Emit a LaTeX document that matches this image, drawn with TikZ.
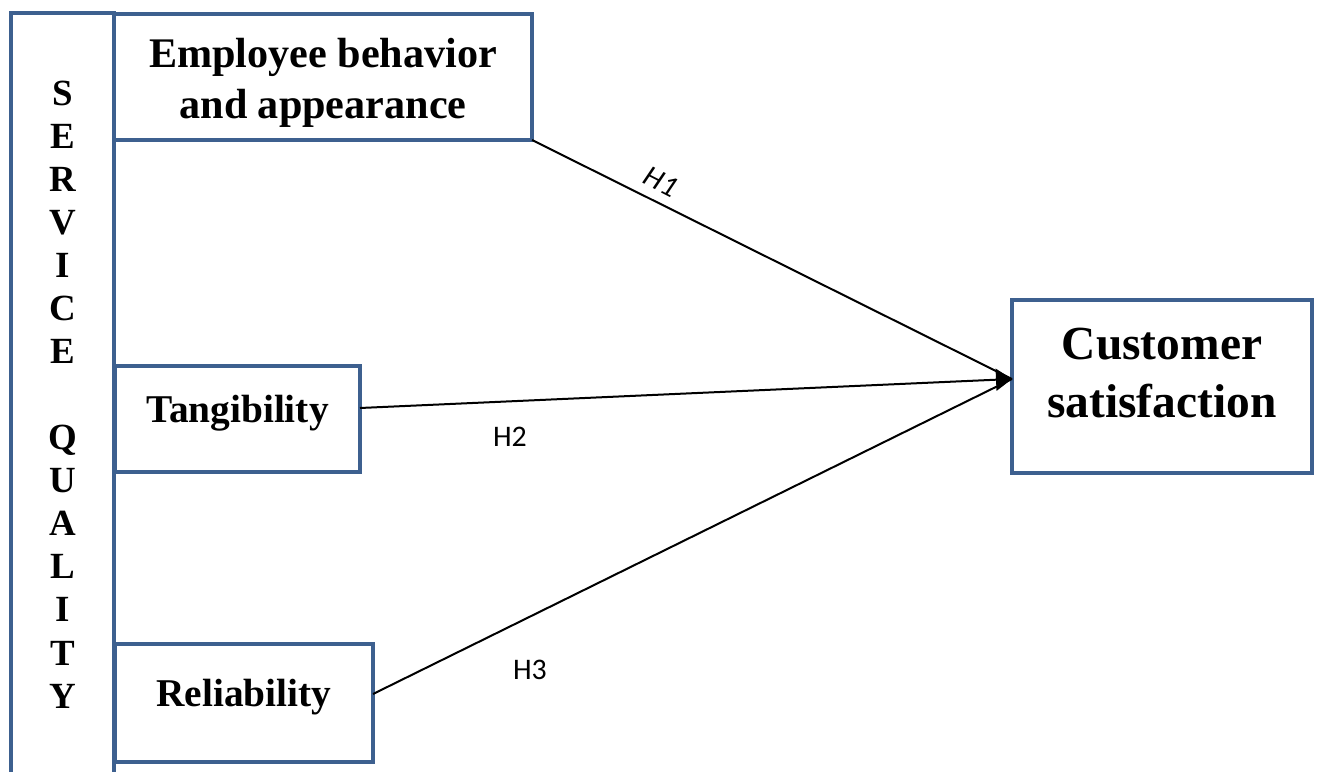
\documentclass[tikz,border=0pt]{standalone}
\usepackage{fontspec}
\setmainfont{Liberation Serif}
\newfontfamily\hypfont{Carlito}
\definecolor{boxblue}{RGB}{61, 96, 143}
\usetikzlibrary{arrows.meta, positioning}
% lift a node text without changing the box it sits in
\newcommand{\lifttext}[2]{\raisebox{#1}[\height][\depth]{\begin{tabular}{@{}c@{}}#2\end{tabular}}}

\begin{document}
\begin{tikzpicture}[x=0.2mm, y=-0.2mm,
    box/.style={draw=boxblue, line width=0.8mm, inner sep=0pt, outer sep=0pt, align=center},
    link/.style={line width=0.4mm},
    hyp/.style={font=\hypfont\fontsize{17}{20}\selectfont}]
  \useasboundingbox (0,0) rectangle (1317,772);
  % service quality column
  \node[box, minimum width=20.6mm, minimum height=152.6mm,
        font=\bfseries\fontsize{21}{24.5}\selectfont] (sq) at (62.5,394.5)
    {S\\E\\R\\V\\I\\C\\E\\[24.5pt]Q\\U\\A\\L\\I\\T\\Y};
  % dimensions
  \node[box, minimum width=83.6mm, minimum height=25.2mm,
        font=\bfseries\fontsize{24}{28.5}\selectfont] (emp) at (323,77)
    {\lifttext{-1.2mm}{Employee behavior\\and appearance}};
  \node[box, minimum width=49mm, minimum height=21.2mm,
        font=\bfseries\fontsize{22.4}{27}\selectfont] (tan) at (237.5,419)
    {\lifttext{1.2mm}{Tangibility}};
  \node[box, minimum width=51.6mm, minimum height=23.6mm,
        font=\bfseries\fontsize{22.4}{27}\selectfont] (rel) at (244,703)
    {\lifttext{1.2mm}{Reliability}};
  % outcome
  \node[box, minimum width=60mm, minimum height=34.6mm,
        font=\bfseries\fontsize{27}{33}\selectfont] (cs) at (1162,386.5)
    {\lifttext{2mm}{Customer\\satisfaction}};
  \coordinate (tip) at ([yshift=1.5mm]cs.west);
  % hypotheses
  \draw[link] (emp.south east) -- (tip);
  \draw[link, -{Triangle[length=3.2mm, width=4.4mm]}] ([yshift=2.2mm]tan.east) -- (tip);
  \draw[link] ([yshift=1.8mm]rel.east) -- (tip);
  \node[hyp, font=\hypfont\itshape\fontsize{17}{20}\selectfont, rotate=-27] (h1) at (661,182) {H1};
  \node[hyp] (h2) at (510,437) {H2};
  \node[hyp] (h3) at (530,670) {H3};
\end{tikzpicture}
\end{document}
